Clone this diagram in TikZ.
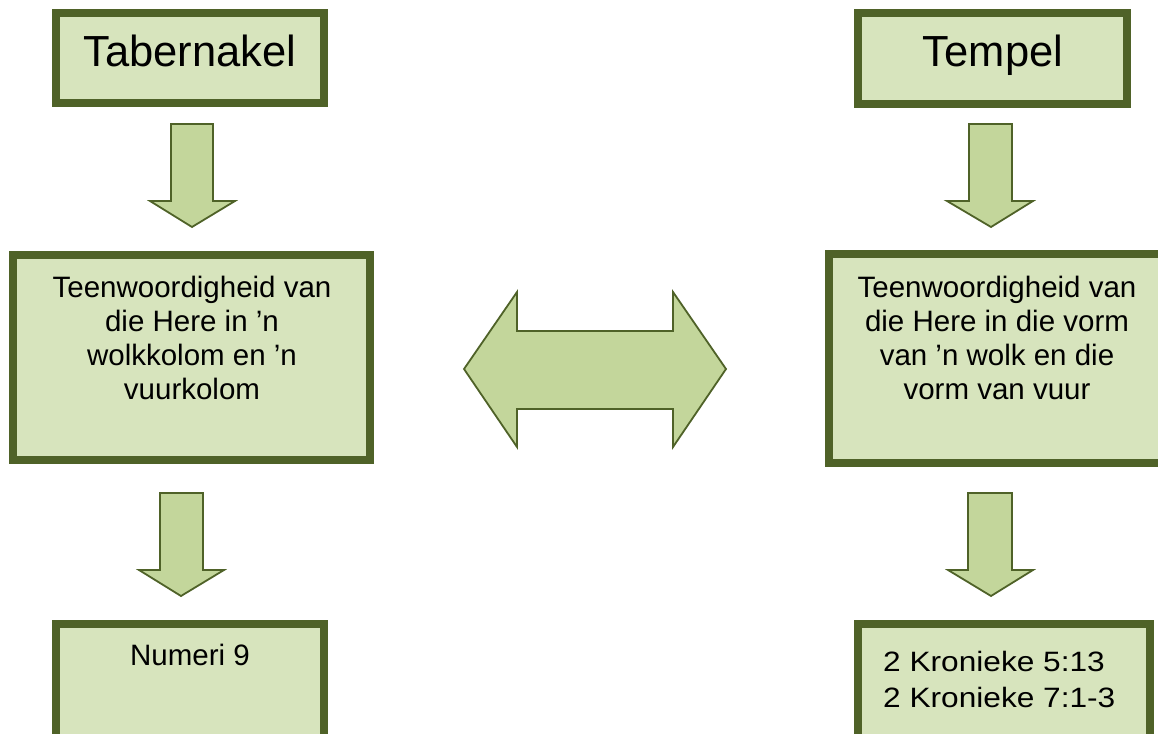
\documentclass[tikz,border=0pt]{standalone}
\usepackage{fontspec}
\setmainfont{Liberation Sans}
\newfontfamily\widefont[FakeStretch=1.13]{Liberation Sans}
\definecolor{boxfill}{HTML}{D7E4BD}
\definecolor{boxline}{HTML}{4F6228}
\definecolor{arrfill}{HTML}{C3D69B}
\tikzset{
  boxshape/.style={draw=boxline, fill=boxfill, line width=8pt},
  blockarrow/.style={draw=boxline, fill=arrfill, line width=1.8pt, line join=miter},
  bodytext/.style={font=\fontsize{29.5pt}{34pt}\selectfont, inner sep=0pt},
  widetext/.style={font=\widefont\fontsize{28pt}{36pt}\selectfont, inner sep=0pt},
  titletext/.style={font=\fontsize{43.5pt}{50pt}\selectfont, inner sep=0pt, anchor=base}
}
\begin{document}
\begin{tikzpicture}[x=1pt,y=-1pt]
\useasboundingbox (0,0) rectangle (1158,733);
\clip (0,0) rectangle (1158,733);
% boxes
\draw[boxshape] (56,13) rectangle (324,103);
\draw[boxshape] (858,13) rectangle (1127,104);
\draw[boxshape] (13,255) rectangle (370,460);
\draw[boxshape] (829,254) rectangle (1175,463);
\draw[boxshape] (56,624) rectangle (324,760);
\draw[boxshape] (858,624) rectangle (1150,760);
% texts
\node[titletext] (tab) at (190,67) {Tabernakel};
\node[titletext] (tem) at (993,67) {Tempel};
\node[bodytext, align=center] (tl) at (192,338) {Teenwoordigheid van\\die Here in ’n\\wolkkolom en ’n\\vuurkolom};
\node[bodytext, align=center] (tr) at (997,338) {Teenwoordigheid van\\die Here in die vorm\\van ’n wolk en die\\vorm van vuur};
\node[bodytext] (num) at (190,655) {Numeri 9};
\node[widetext, align=left, anchor=west] (kro) at (883,679) {2 Kronieke 5:13\\2 Kronieke 7:1-3};
% down arrows
\draw[blockarrow] (171,124) -- (213,124) -- (213,201) -- (235,201) -- (192,227) -- (150,201) -- (171,201) -- cycle;
\draw[blockarrow] (969,124) -- (1012,124) -- (1012,201) -- (1033,201) -- (991,227) -- (947,201) -- (969,201) -- cycle;
\draw[blockarrow] (160,493) -- (203,493) -- (203,570) -- (224,570) -- (181,596) -- (139,570) -- (160,570) -- cycle;
\draw[blockarrow] (968,493) -- (1012,493) -- (1012,570) -- (1033,570) -- (991,596) -- (948,570) -- (968,570) -- cycle;
% double arrow
\draw[blockarrow] (464,369) -- (517,292) -- (517,331) -- (673,331) -- (673,292) -- (726,369) -- (673,447) -- (673,409) -- (517,409) -- (517,447) -- cycle;
\end{tikzpicture}
\end{document}
